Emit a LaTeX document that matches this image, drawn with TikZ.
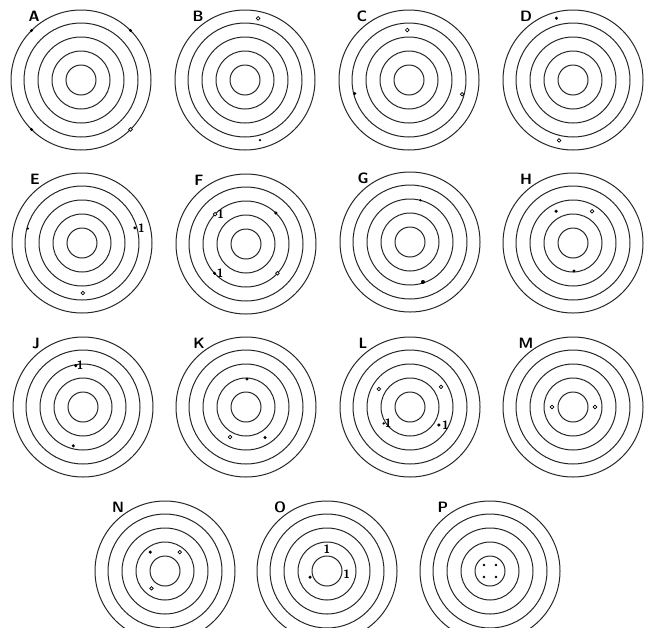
\documentclass[tikz,border=0pt]{standalone}
\usepackage{tikz}
\usetikzlibrary{calc}

\begin{document}
\begin{tikzpicture}[x=1pt,y=1pt,
  ring/.style={line width=1pt,black!85},
  dot/.style={circle,fill=black,inner sep=0pt,minimum size=3.4pt},
  hole/.style={circle,draw=black,fill=white,line width=0.7pt,inner sep=0pt,minimum size=3.6pt},
  tag/.style={font=\fontsize{15}{15}\selectfont\sffamily\bfseries,inner sep=0pt},
  num/.style={font=\fontsize{12}{12}\selectfont\sffamily\bfseries,inner sep=0pt}]
\useasboundingbox (0,0) rectangle (647,-627);
\clip (0,0) rectangle (647,-627);
% centres of the targets
\coordinate (A) at (81,-80);  \coordinate (B) at (245,-80);  \coordinate (C) at (409,-80);  \coordinate (D) at (573,-80);
\coordinate (E) at (82,-243); \coordinate (F) at (246,-244); \coordinate (G) at (410,-242); \coordinate (H) at (573,-243);
\coordinate (J) at (83,-407); \coordinate (K) at (246,-407); \coordinate (L) at (410,-407); \coordinate (M) at (573,-407);
\coordinate (N) at (165,-571); \coordinate (O) at (327,-571); \coordinate (P) at (490,-571);
% rings and letters
\foreach \t in {A,B,C,D,E,F,G,H,J,K,L,M,N,O,P}{
  \foreach \r in {15,29,43,57,70} \draw[ring] (\t) circle (\r);
  \node[tag] (tag\t) at ($(\t)+(-47,64)$) {\t};
}
% A
\node[dot] (a1) at ($(A)+(45:70)$) {};
\node[dot] (a2) at ($(A)+(135:70)$) {};
\node[dot] (a3) at ($(A)+(225:70)$) {};
\node[hole] (a4) at ($(A)+(-45:70)$) {};
% B
\node[hole] (b1) at ($(B)+(78:63)$) {};
\node[dot,minimum size=2.6pt] (b2) at ($(B)+(-76:62)$) {};
% C
\node[hole] (c1) at ($(C)+(92:50)$) {};
\node[dot] (c2) at ($(C)+(194:56)$) {};
\node[hole] (c3) at ($(C)+(-15:55)$) {};
% D
\node[dot] (d1) at ($(D)+(105:64)$) {};
\node[hole] (d2) at ($(D)+(-103:62)$) {};
% E
\node[dot,minimum size=2.6pt] (e1) at ($(E)+(165:56)$) {};
\node[dot] (e2) at ($(E)+(16:55)$) {};
\node[num,right=3pt] (e2n) at (e2) {1};
\node[hole] (e3) at ($(E)+(-89:50)$) {};
% F
\node[hole] (f1) at ($(F)+(136:43)$) {};
\node[num,right=2pt] (f1n) at (f1) {1};
\node[dot] (f2) at ($(F)+(46:43)$) {};
\node[dot] (f3) at ($(F)+(223:43)$) {};
\node[num,right=2pt] (f3n) at (f3) {1};
\node[hole] (f4) at ($(F)+(-43:43)$) {};
% G
\node[dot,minimum size=2.6pt] (g1) at ($(G)+(76:43)$) {};
\node[dot,minimum size=4pt] (g2) at ($(G)+(-72:42)$) {};
% H
\node[dot] (h1) at ($(H)+(118:36)$) {};
\node[hole] (h2) at ($(H)+(59:37)$) {};
\node[dot] (h3) at ($(H)+(-88:28)$) {};
% J
\node[dot] (j1) at ($(J)+(100:42)$) {};
\node[num,right=1pt] (j1n) at (j1) {1};
\node[dot] (j2) at ($(J)+(-104:40)$) {};
% K
\node[dot] (k1) at ($(K)+(88:28)$) {};
\node[hole] (k2) at ($(K)+(-118:34)$) {};
\node[dot] (k3) at ($(K)+(-58:36)$) {};
% L
\node[hole] (l1) at ($(L)+(150:36)$) {};
\node[hole] (l2) at ($(L)+(33:37)$) {};
\node[dot,minimum size=2.6pt] (l3) at ($(L)+(-148:31)$) {};
\node[num,right=1pt] (l3n) at (l3) {1};
\node[dot] (l4) at ($(L)+(-32:34)$) {};
\node[num,right=3pt] (l4n) at (l4) {1};
% M
\node[hole] (m1) at ($(M)+(180:21)$) {};
\node[hole] (m2) at ($(M)+(0:22)$) {};
% N
\node[dot] (n1) at ($(N)+(128:24)$) {};
\node[hole] (n2) at ($(N)+(52:24)$) {};
\node[hole] (n3) at ($(N)+(-128:22)$) {};
% O
\node[num] (o1) at ($(O)+(0,22)$) {1};
\node[dot] (o2) at ($(O)+(200:18)$) {};
\node[num] (o3) at ($(O)+(-10:20)$) {1};
% P
\node[dot,minimum size=2.6pt] (p1) at ($(P)+(-6,6)$) {};
\node[dot,minimum size=2.6pt] (p2) at ($(P)+(6,6)$) {};
\node[dot,minimum size=2.6pt] (p3) at ($(P)+(-6,-6)$) {};
\node[dot,minimum size=2.6pt] (p4) at ($(P)+(6,-6)$) {};
\end{tikzpicture}
\end{document}
